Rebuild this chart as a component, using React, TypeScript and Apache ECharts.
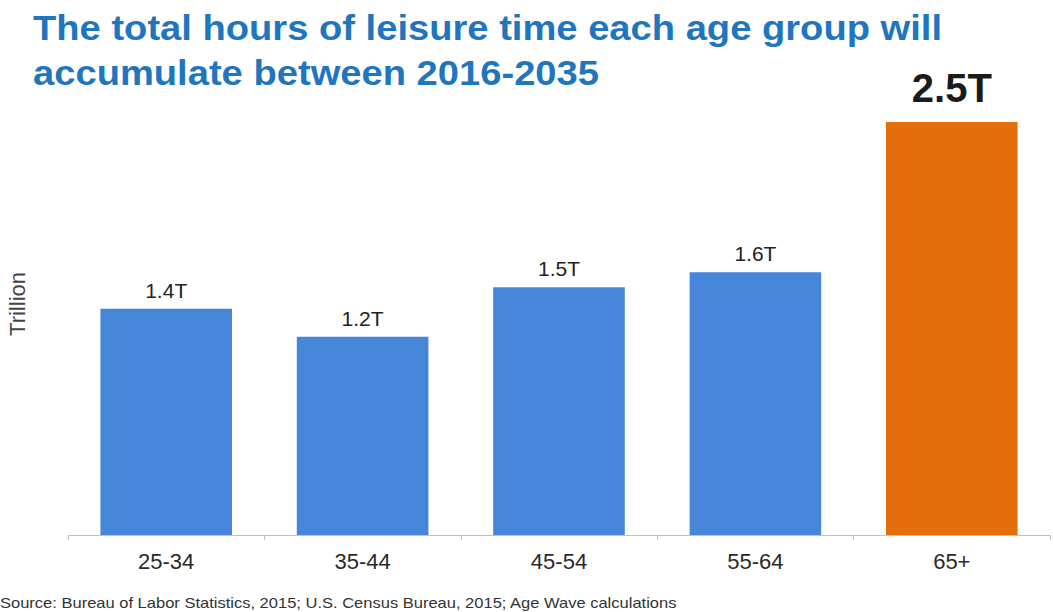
import React, { useEffect, useRef } from "react";
import * as echarts from "echarts";

const categories = ["25-34", "35-44", "45-54", "55-64", "65+"];
const values = [1.37, 1.2, 1.5, 1.59, 2.5];
const valueLabels = ["1.4T", "1.2T", "1.5T", "1.6T", "2.5T"];
const titleLines = [
  "The total hours of leisure time each age group will",
  "accumulate between 2016-2035",
];
const yAxisName = "Trillion";
const sourceText =
  "Source: Bureau of Labor Statistics, 2015; U.S. Census Bureau, 2015; Age Wave calculations";

const BLUE = "#4686d8";
const ORANGE = "#e46e0c";

export default function App() {
  const ref = useRef<HTMLDivElement>(null);
  useEffect(() => {
    if (!ref.current) return;
    const chart = echarts.init(ref.current, undefined, { renderer: "svg" });
    const font = "Arial, 'Liberation Sans', Helvetica, sans-serif";
    const data = values.map((v, i) => {
      const highlight = i === values.length - 1;
      return {
        value: v,
        itemStyle: { color: highlight ? ORANGE : BLUE },
        label: highlight
          ? { fontSize: 40, fontWeight: "bold", color: "#1a1a1a", distance: 14 }
          : { fontSize: 21, color: "#222", distance: 8 },
      };
    });
    const titleText = (text: string, y: number) => ({
      type: "text",
      x: 33,
      y,
      scaleX: 1.09,
      style: {
        text,
        fontSize: 35,
        fontWeight: "bold",
        fill: "#1f76bf",
        fontFamily: font,
        align: "left",
        verticalAlign: "middle",
      },
    });
    chart.setOption({
      animation: false,
      backgroundColor: "#ffffff",
      textStyle: { fontFamily: font },
      grid: { left: 68, right: 3, top: 122, bottom: 77, containLabel: false },
      xAxis: {
        type: "category",
        data: categories,
        axisLine: { show: true, lineStyle: { color: "#c0c0c0", width: 1 } },
        axisTick: { show: true, length: 5, lineStyle: { color: "#c0c0c0" } },
        axisLabel: { fontSize: 22, color: "#2a2a2a", margin: 15, fontFamily: font },
      },
      yAxis: {
        type: "value",
        min: 0,
        max: 2.5,
        show: false,
      },
      graphic: [
        titleText(titleLines[0], 28),
        titleText(titleLines[1], 73),
        {
          type: "text",
          x: 17,
          y: 304,
          rotation: Math.PI / 2,
          style: {
            text: yAxisName,
            fontSize: 22,
            fill: "#444",
            fontFamily: font,
            align: "center",
            verticalAlign: "middle",
          },
        },
        {
          type: "text",
          x: 0,
          y: 603,
          scaleX: 1.18,
          style: {
            text: sourceText,
            fontSize: 14,
            fill: "#333",
            fontFamily: font,
            align: "left",
            verticalAlign: "middle",
          },
        },
      ],
      series: [
        {
          type: "bar",
          data,
          barCategoryGap: "33%",
          label: {
            show: true,
            position: "top",
            fontFamily: font,
            formatter: (p: any) => valueLabels[p.dataIndex],
          },
        },
      ],
    });
    return () => chart.dispose();
  }, []);
  return (
    <div
      ref={ref}
      style={{ position: "fixed", left: 0, top: 0, width: 1053, height: 612 }}
    />
  );
}
